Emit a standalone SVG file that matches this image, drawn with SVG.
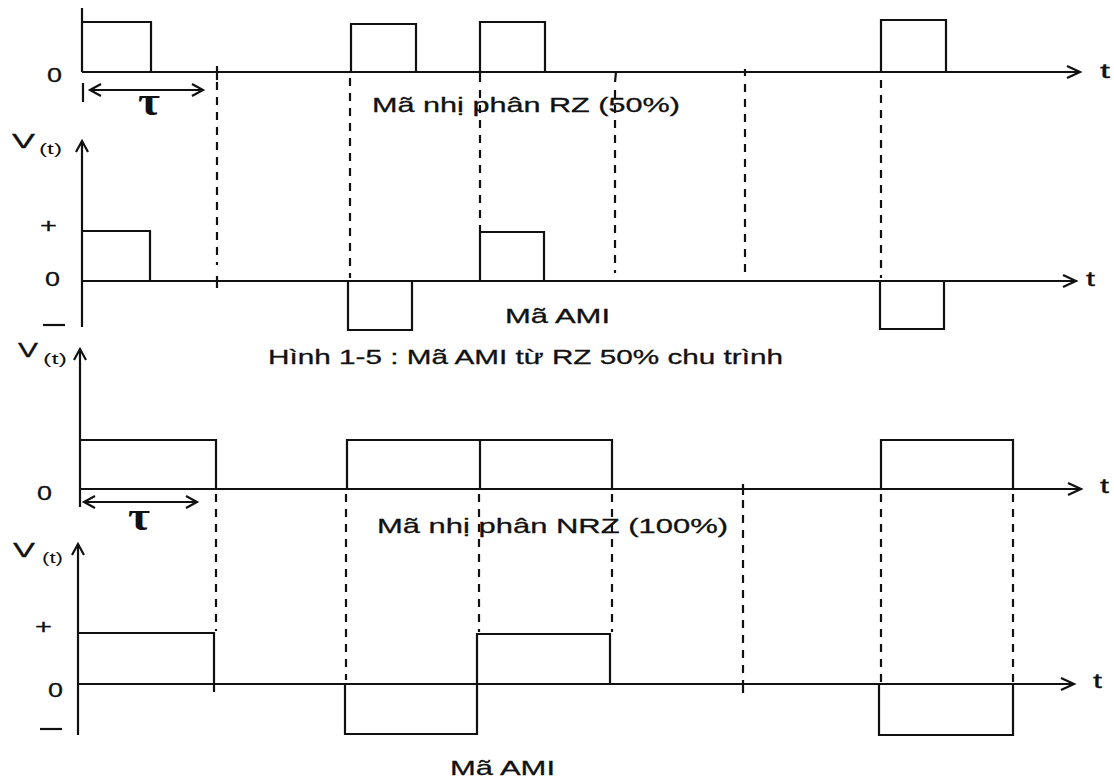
<svg xmlns="http://www.w3.org/2000/svg" width="1114" height="780" viewBox="0 0 1114 780">
<style>
.ln{fill:none;stroke:#111;stroke-width:2.2;stroke-linejoin:miter}
.ds{fill:none;stroke:#111;stroke-width:2.2;stroke-dasharray:8 7}
.ah{fill:none;stroke:#111;stroke-width:2.2}
text{font-family:"Liberation Sans",Arial,sans-serif;fill:#111}
.lb{font-size:21px;stroke:#111;stroke-width:0.3}
.v{font-size:21px;stroke:#111;stroke-width:0.3}
.vs{font-size:14px}
.tau{font-family:"Liberation Serif","Times New Roman",serif;font-weight:bold;font-size:40px}
</style>
<rect width="1114" height="780" fill="#fff"/>
<g id="connectors">
<line class="ln" x1="217" y1="66" x2="217" y2="80"/>
<line class="ds" x1="217" y1="82" x2="217" y2="265"/>
<line class="ln" x1="217" y1="276" x2="217" y2="288"/>
<line class="ds" x1="350" y1="78" x2="350" y2="278"/>
<line class="ln" x1="480" y1="72" x2="480" y2="82"/>
<line class="ds" x1="480" y1="90" x2="480" y2="231"/>
<line class="ln" x1="616" y1="72" x2="615" y2="82"/>
<line class="ds" x1="615" y1="90" x2="615" y2="273"/>
<line class="ln" x1="745" y1="69" x2="745" y2="76"/>
<line class="ds" x1="745" y1="84" x2="745" y2="274"/>
<line class="ds" x1="881" y1="80" x2="881" y2="278"/>
<line class="ds" x1="216" y1="494" x2="216" y2="631"/>
<line class="ds" x1="346" y1="494" x2="346" y2="680"/>
<line class="ds" x1="479" y1="494" x2="479" y2="632"/>
<line class="ds" x1="612" y1="494" x2="612" y2="632"/>
<line class="ln" x1="743" y1="484" x2="743" y2="495"/>
<line class="ds" x1="743" y1="500" x2="743" y2="677"/>
<line class="ln" x1="743" y1="680" x2="743" y2="693"/>
<line class="ds" x1="881" y1="494" x2="881" y2="682"/>
<line class="ds" x1="1013" y1="494" x2="1013" y2="682"/>
<line class="ln" x1="214" y1="684" x2="214" y2="692"/>
</g>
<g id="panel-rz">
<line class="ln" x1="82" y1="8" x2="82" y2="72"/>
<line class="ln" x1="82" y1="72" x2="1080" y2="72"/>
<polyline class="ah" points="1067,66 1080,72 1067,78"/>
<polyline class="ln" points="82,22 151,22 151,72"/>
<polyline class="ln" points="351,72 351,24 416,24 416,72"/>
<polyline class="ln" points="480,72 480,22 545,22 545,72"/>
<polyline class="ln" points="881,72 881,20 946,20 946,72"/>
<text class="lb" x="47" y="82" textLength="15" lengthAdjust="spacingAndGlyphs">0</text>
<text class="lb" x="1100" y="78" textLength="10" lengthAdjust="spacingAndGlyphs">t</text>
<line class="ln" x1="83" y1="83" x2="83" y2="102"/>
<line class="ln" x1="90" y1="90" x2="203" y2="90"/>
<polyline class="ah" points="101,84 90,90 101,96"/>
<polyline class="ah" points="192,84 203,90 192,96"/>
<text class="tau" x="138" y="115" textLength="22" lengthAdjust="spacingAndGlyphs">τ</text>
<text class="lb" x="372" y="112" textLength="308" lengthAdjust="spacingAndGlyphs">Mã nhị phân RZ (50%)</text>
</g>
<g id="panel-ami-rz">
<line class="ln" x1="82" y1="141" x2="82" y2="327"/>
<polyline class="ah" points="76,152 82,141 88,152"/>
<line class="ln" x1="82" y1="281" x2="1076" y2="281"/>
<polyline class="ah" points="1063,275 1076,281 1063,287"/>
<polyline class="ln" points="82,231 150,231 150,281"/>
<polyline class="ln" points="348,281 348,330 412,330 412,281"/>
<polyline class="ln" points="480,281 480,232 544,232 544,281"/>
<polyline class="ln" points="880,281 880,329 944,329 944,281"/>
<text class="v" x="12" y="148" textLength="23" lengthAdjust="spacingAndGlyphs">V</text>
<text class="vs" x="39" y="154" textLength="23" lengthAdjust="spacingAndGlyphs">(t)</text>
<text class="lb" x="40" y="233" textLength="17" lengthAdjust="spacingAndGlyphs">+</text>
<text class="lb" x="45" y="286" textLength="15" lengthAdjust="spacingAndGlyphs">0</text>
<line class="ln" x1="43" y1="325" x2="65" y2="325"/>
<text class="lb" x="1086" y="286" textLength="9" lengthAdjust="spacingAndGlyphs">t</text>
<text class="lb" x="505" y="323" textLength="105" lengthAdjust="spacingAndGlyphs">Mã AMI</text>
<text class="lb" x="268" y="364" textLength="515" lengthAdjust="spacingAndGlyphs">Hình 1-5 : Mã AMI từ RZ 50% chu trình</text>
</g>
<g id="panel-nrz">
<line class="ln" x1="80" y1="349" x2="80" y2="507"/>
<polyline class="ah" points="74,360 80,349 86,360"/>
<line class="ln" x1="80" y1="489" x2="1081" y2="489"/>
<polyline class="ah" points="1068,483 1081,489 1068,495"/>
<polyline class="ln" points="80,440 216,440 216,489"/>
<polyline class="ln" points="347,489 347,440 612,440 612,489"/>
<line class="ln" x1="480" y1="440" x2="480" y2="489"/>
<polyline class="ln" points="881,489 881,440 1013,440 1013,489"/>
<text class="v" x="18" y="357" textLength="20" lengthAdjust="spacingAndGlyphs">V</text>
<text class="vs" x="43" y="364" textLength="24" lengthAdjust="spacingAndGlyphs">(t)</text>
<text class="lb" x="37" y="500" textLength="15" lengthAdjust="spacingAndGlyphs">0</text>
<text class="lb" x="1100" y="493" textLength="9" lengthAdjust="spacingAndGlyphs">t</text>
<line class="ln" x1="84" y1="502" x2="197" y2="502"/>
<polyline class="ah" points="95,496 84,502 95,508"/>
<polyline class="ah" points="186,496 197,502 186,508"/>
<text class="tau" x="128" y="530" textLength="22" lengthAdjust="spacingAndGlyphs">τ</text>
<text class="lb" x="377" y="533" textLength="351" lengthAdjust="spacingAndGlyphs">Mã nhị phân NRZ (100%)</text>
</g>
<g id="panel-ami-nrz">
<line class="ln" x1="78" y1="544" x2="78" y2="735"/>
<polyline class="ah" points="72,555 78,544 84,555"/>
<line class="ln" x1="78" y1="684" x2="1074" y2="684"/>
<polyline class="ah" points="1061,678 1074,684 1061,690"/>
<polyline class="ln" points="78,633 214,633 214,684"/>
<polyline class="ln" points="345,684 345,734 477,734 477,684"/>
<polyline class="ln" points="477,684 477,634 610,634 610,684"/>
<polyline class="ln" points="879,684 879,735 1013,735 1013,684"/>
<text class="v" x="13" y="557" textLength="22" lengthAdjust="spacingAndGlyphs">V</text>
<text class="vs" x="42" y="563" textLength="21" lengthAdjust="spacingAndGlyphs">(t)</text>
<text class="lb" x="35" y="634" textLength="17" lengthAdjust="spacingAndGlyphs">+</text>
<text class="lb" x="48" y="697" textLength="15" lengthAdjust="spacingAndGlyphs">0</text>
<line class="ln" x1="40" y1="729" x2="62" y2="729"/>
<text class="lb" x="1093" y="688" textLength="9" lengthAdjust="spacingAndGlyphs">t</text>
<text class="lb" x="450" y="775" textLength="105" lengthAdjust="spacingAndGlyphs">Mã AMI</text>
</g>
</svg>
